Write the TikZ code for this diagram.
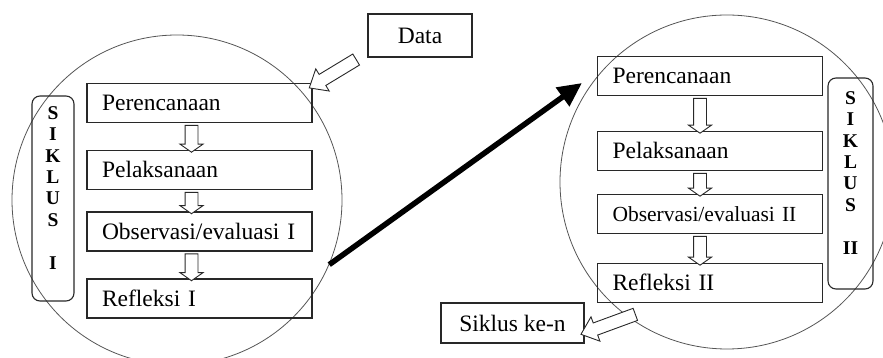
\documentclass[tikz,border=0pt]{standalone}
\usepackage{fontspec}
\setmainfont{Liberation Serif}
\usepackage{xcolor}
\definecolor{boxline}{RGB}{40,40,40}
\definecolor{ringgray}{RGB}{85,85,85}
\usetikzlibrary{shapes.arrows,arrows.meta,calc}

\begin{document}
\begin{tikzpicture}[x=1pt, y=1pt,
  stage/.style={rectangle, draw=boxline, line width=1.1pt, text width=195pt,
                align=left, inner xsep=15pt, inner ysep=0pt, minimum height=39pt,
                text height=16.5pt, text depth=1pt,
                font=\fontsize{23.5}{26}\selectfont},
  note/.style={rectangle, draw=boxline, line width=1.1pt, align=center,
               font=\fontsize{23.5}{26}\selectfont},
  ring/.style={circle, draw=ringgray, line width=0.8pt, inner sep=0pt},
  cyclebar/.style={rectangle, rounded corners=8pt, draw=boxline, line width=1.1pt,
                   align=center, inner sep=0pt,
                   font=\fontsize{19.5}{21.4}\selectfont\bfseries},
  hollow/.style={single arrow, draw=boxline, line width=0.9pt, fill=white,
                 inner xsep=0pt, inner ysep=6pt, single arrow head extend=5pt,
                 single arrow tip angle=110},
  flow/.style={to path={let \p1=(\tikztostart), \p2=(\tikztotarget),
                 \n1={veclen(\x2-\x1,\y2-\y1)} in
                 (\tikztostart) -- node[hollow, sloped, allow upside down,
                 minimum height=\n1, #1] {} (\tikztotarget)}},
  flow/.default={}
]
  \useasboundingbox (0,0) rectangle (883,358);
  \clip (0,0) rectangle (883,358);
  \node[ring, minimum size=330pt] (c1) at (177,158) {};
  \node[ring, minimum size=334pt] (c2) at (727,176) {};

  \node[stage] (p1) at (199.5,255)   {Perencanaan};
  \node[stage] (p2) at (199.5,188)   {Pelaksanaan};
  \node[stage] (p3) at (199.5,126.5) {Observasi/evaluasi I};
  \node[stage] (p4) at (199.5,59.5)  {Refleksi I};
  \node[cyclebar, minimum width=42pt, minimum height=205pt] (s1) at (53,159.5)
    {S\\I\\K\\L\\U\\S\\[21.4pt]I\\ \mbox{}};

  \node[stage] (r1) at (710,282) {Perencanaan};
  \node[stage] (r2) at (710,207) {Pelaksanaan};
  \node[stage, font=\fontsize{21.5}{24}\selectfont] (r3) at (710,144) {Observasi/evaluasi II};
  \node[stage] (r4) at (710,75)  {Refleksi II};
  \node[cyclebar, minimum width=45pt, minimum height=211pt] (s2) at (850.5,174.5)
    {S\\I\\K\\L\\U\\S\\[21.4pt]II\\ \mbox{}};

  \node[note, minimum width=104pt, minimum height=43pt] (data) at (420,322.5) {Data};
  \node[note, minimum width=143pt, minimum height=40pt] (sk) at (512.5,35) {Siklus ke-n};
  \coordinate (tip) at (582,275);

  \path ([xshift=-8pt]p1.south) to[flow] ([xshift=-8pt]p2.north);
  \path ([xshift=-8pt]p2.south) to[flow] ([xshift=-8pt]p3.north);
  \path ([xshift=-8pt]p3.south) to[flow] ([xshift=-8pt]p4.north);
  \path ([xshift=-10pt]r1.south) to[flow] ([xshift=-10pt]r2.north);
  \path ([xshift=-10pt]r2.south) to[flow] ([xshift=-10pt]r3.north);
  \path ([xshift=-10pt]r3.south) to[flow] ([xshift=-10pt]r4.north);
  \path ([xshift=-8pt]data.south west)
    to[flow={single arrow head extend=6.5pt, single arrow tip angle=80}]
    ([yshift=-3pt]p1.north east);
  \path ([shift={(42pt,-10pt)}]r4.south west)
    to[flow={single arrow head extend=6.5pt, single arrow tip angle=80}]
    ([yshift=-10pt]sk.east);
  \draw[line width=5.5pt, -{Triangle[length=24pt,width=22pt]}] (c1.-23) -- (tip);
\end{tikzpicture}
\end{document}
